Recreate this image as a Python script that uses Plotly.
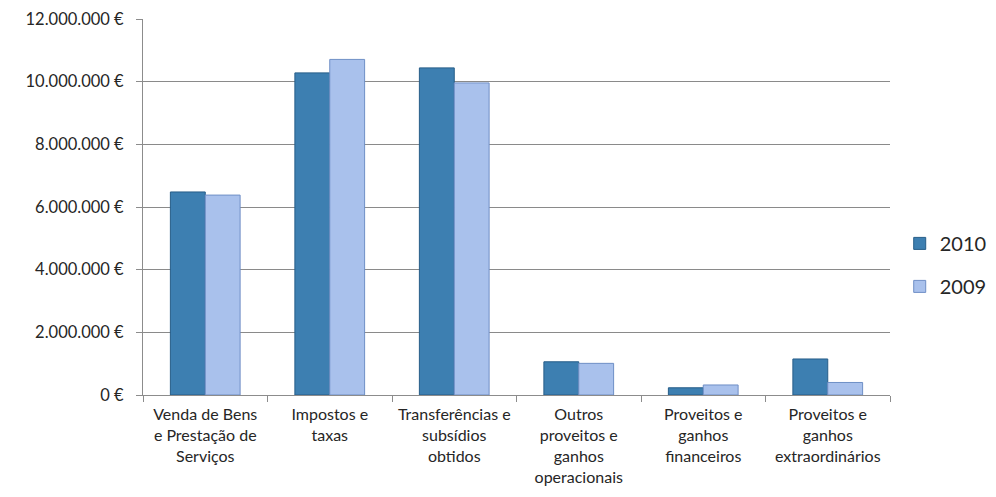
import plotly.graph_objects as go

categories = [
    "Venda de Bens<br>e Prestação de<br>Serviços",
    "Impostos e<br>taxas",
    "Transferências e<br>subsídios<br>obtidos",
    "Outros<br>proveitos e<br>ganhos<br>operacionais",
    "Proveitos e<br>ganhos<br>financeiros",
    "Proveitos e<br>ganhos<br>extraordinários",
]
values_2010 = [6480000, 10280000, 10440000, 1060000, 230000, 1150000]
values_2009 = [6380000, 10710000, 9960000, 1010000, 320000, 400000]
y_tick_values = [0, 2000000, 4000000, 6000000, 8000000, 10000000, 12000000]
y_tick_labels = ["0 €", "2.000.000 €", "4.000.000 €", "6.000.000 €",
                 "8.000.000 €", "10.000.000 €", "12.000.000 €"]

fig = go.Figure()
fig.add_trace(go.Bar(
    name="2010", x=categories, y=values_2010, legendgroup="a",
    marker=dict(color="#3d7fb1", line=dict(color="#265d88", width=1)),
))
fig.add_trace(go.Bar(
    name="2009", x=categories, y=values_2009, legendgroup="b",
    marker=dict(color="#a9c1ec", line=dict(color="#6f8fc6", width=1)),
))

fig.update_layout(
    width=996, height=497,
    margin=dict(l=143, r=106, t=19, b=102, autoexpand=False),
    paper_bgcolor="white", plot_bgcolor="white",
    barmode="group", bargap=0.44, bargroupgap=0,
    font=dict(family="Lato, 'Open Sans', sans-serif", color="#262626"),
    legend=dict(
        x=1.013, y=0.346, xanchor="left", yanchor="middle",
        font=dict(size=20, color="#262626"),
        traceorder="grouped", tracegroupgap=14,
        itemwidth=30,
    ),
    xaxis=dict(
        showline=True, linecolor="#8c8c8c", linewidth=1,
        ticks="outside", tickson="boundaries", ticklen=6, tickcolor="#8c8c8c",
        tickfont=dict(size=16), tickangle=0, showgrid=False,
        ticklabelstandoff=5,
    ),
    yaxis=dict(
        range=[0, 12000000],
        tickvals=y_tick_values, ticktext=y_tick_labels,
        showline=True, linecolor="#8c8c8c", linewidth=1,
        ticks="outside", ticklen=6, tickcolor="#8c8c8c",
        showgrid=True, gridcolor="#8a8a8a", gridwidth=1,
        tickfont=dict(size=16.5), zeroline=False, ticklabelstandoff=9,
    ),
)

fig.write_html("out.html")
